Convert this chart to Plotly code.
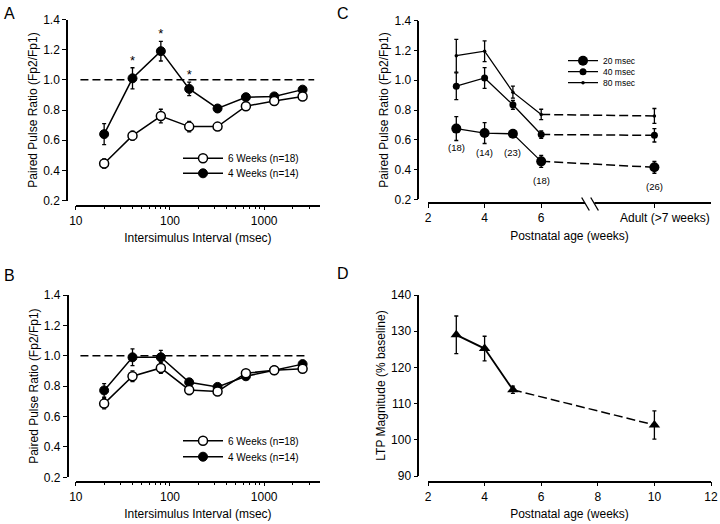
import plotly.graph_objects as go

# ---------------- data ----------------
isi_ms = [20, 40, 80, 160, 320, 640, 1280, 2560]

a_6wk = [0.445, 0.63, 0.76, 0.69, 0.69, 0.825, 0.86, 0.89]
a_6wk_err = [0.03, 0.03, 0.045, 0.035, 0.02, 0.02, 0.015, 0.015]
a_4wk = [0.64, 1.01, 1.19, 0.94, 0.81, 0.885, 0.89, 0.935]
a_4wk_err = [0.07, 0.07, 0.065, 0.045, 0.02, 0.02, 0.015, 0.01]
a_sig_isi = [40, 80, 160]

b_6wk = [0.685, 0.865, 0.92, 0.775, 0.765, 0.885, 0.905, 0.915]
b_6wk_err = [0.035, 0.035, 0.035, 0.03, 0.02, 0.02, 0.01, 0.01]
b_4wk = [0.772, 0.99, 0.99, 0.825, 0.795, 0.865, 0.905, 0.945]
b_4wk_err = [0.045, 0.055, 0.045, 0.02, 0.015, 0.015, 0.01, 0.01]

unity_a = [11.2, 3400]
unity_b = [11.2, 2700]

c_age = [3, 4, 5, 6, 10]          # 10 = adult (>7 weeks)
c_20 = [0.675, 0.645, 0.64, 0.455, 0.415]
c_20_err = [0.08, 0.07, 0.02, 0.04, 0.04]
c_40 = [0.96, 1.015, 0.835, 0.635, 0.63]
c_40_err = [0.09, 0.07, 0.03, 0.025, 0.045]
c_80 = [1.165, 1.195, 0.92, 0.77, 0.76]
c_80_err = [0.11, 0.07, 0.04, 0.035, 0.05]
c_n = ["(18)", "(14)", "(23)", "(18)", "(26)"]

d_age = [3, 4, 5, 10]
d_ltp = [129, 125.2, 113.8, 104.1]
d_err = [5.2, 3.4, 1.0, 3.9]

FONT = "Liberation Sans, Arial, Helvetica, sans-serif"
W, H = 720, 524


def px(v):
    return v / W


def py(v):
    return (H - v) / H


fig = go.Figure()


def err(vals, w=2):
    return dict(type="data", array=vals, visible=True, color="black", thickness=1.3, width=w)


# ---------- Panel A / B ----------
for xa, ya, six, six_e, four, four_e, unity, lg in [
    ("x", "y", a_6wk, a_6wk_err, a_4wk, a_4wk_err, unity_a, ("legend", "legend2")),
    ("x2", "y2", b_6wk, b_6wk_err, b_4wk, b_4wk_err, unity_b, ("legend3", "legend4")),
]:
    fig.add_trace(go.Scatter(x=unity, y=[1, 1], mode="lines", xaxis=xa, yaxis=ya,
                             line=dict(color="black", width=1.5, dash="8px,4px"),
                             showlegend=False, hoverinfo="skip"))
    fig.add_trace(go.Scatter(x=isi_ms, y=four, mode="lines+markers", xaxis=xa, yaxis=ya,
                             name="4 Weeks (n=14)", legend=lg[1],
                             line=dict(color="black", width=1.5),
                             marker=dict(symbol="circle", size=9, color="black",
                                         line=dict(color="black", width=1)),
                             error_y=err(four_e)))
    fig.add_trace(go.Scatter(x=isi_ms, y=six, mode="lines+markers", xaxis=xa, yaxis=ya,
                             name="6 Weeks (n=18)", legend=lg[0],
                             line=dict(color="black", width=1.5),
                             marker=dict(symbol="circle", size=9, color="white",
                                         line=dict(color="black", width=1.5)),
                             error_y=err(six_e)))

# significance stars
star_y = [a_4wk[isi_ms.index(v)] + a_4wk_err[isi_ms.index(v)] for v in a_sig_isi]
fig.add_trace(go.Scatter(x=a_sig_isi, y=star_y, mode="text", text=["*"] * len(a_sig_isi),
                         textposition="top center", xaxis="x", yaxis="y",
                         textfont=dict(family=FONT, size=13, color="black"),
                         showlegend=False, hoverinfo="skip"))

# ---------- Panel C ----------
c_specs = [
    (c_20, c_20_err, "20 msec", 10, "legend5"),
    (c_40, c_40_err, "40 msec", 7, "legend6"),
    (c_80, c_80_err, "80 msec", 3.5, "legend7"),
]
for vals, errs, name, msize, lg in c_specs:
    fig.add_trace(go.Scatter(x=c_age[:4], y=vals[:4], mode="lines+markers", xaxis="x3", yaxis="y3",
                             name=name, legend=lg,
                             line=dict(color="black", width=1.3),
                             marker=dict(symbol="circle", size=msize, color="black"),
                             error_y=err(errs[:4])))
    fig.add_trace(go.Scatter(x=c_age[3:], y=vals[3:], mode="lines", xaxis="x3", yaxis="y3",
                             line=dict(color="black", width=1.5, dash="9px,4px"),
                             showlegend=False, hoverinfo="skip"))
    fig.add_trace(go.Scatter(x=c_age[4:], y=vals[4:], mode="markers", xaxis="x3", yaxis="y3",
                             marker=dict(symbol="circle", size=msize, color="black"),
                             error_y=err(errs[4:]), showlegend=False, hoverinfo="skip"))

annotations = []
for xv, yv, t in zip(c_age, c_20, c_n):
    annotations.append(dict(x=xv, y=yv, xref="x3", yref="y3", text=t, showarrow=False,
                            yshift=-19, font=dict(family=FONT, size=9.5, color="black")))

# ---------- Panel D ----------
fig.add_trace(go.Scatter(x=d_age[:3], y=d_ltp[:3], mode="lines+markers", xaxis="x4", yaxis="y4",
                         line=dict(color="black", width=1.8),
                         marker=dict(symbol="triangle-up", size=10, color="black"),
                         error_y=err(d_err[:3]), showlegend=False))
fig.add_trace(go.Scatter(x=d_age[2:], y=d_ltp[2:], mode="lines", xaxis="x4", yaxis="y4",
                         line=dict(color="black", width=1.5, dash="9px,4px"),
                         showlegend=False, hoverinfo="skip"))
fig.add_trace(go.Scatter(x=d_age[3:], y=d_ltp[3:], mode="markers", xaxis="x4", yaxis="y4",
                         marker=dict(symbol="triangle-up", size=10, color="black"),
                         error_y=err(d_err[3:]), showlegend=False))

# ---------- axes ----------
tickfont = dict(family=FONT, size=12, color="black")
titlefont = dict(family=FONT, size=12, color="black")

common_x = dict(anchor="free", showline=True, linecolor="black", linewidth=1.5,
                ticks="outside", ticklen=4, tickwidth=1.2, tickcolor="black", automargin=False,
                showgrid=False, zeroline=False, tickfont=tickfont, ticklabeloverflow="allow")
common_y = dict(anchor="free", showline=True, linecolor="black", linewidth=1.5,
                ticks="outside", ticklen=4, tickwidth=1.2, tickcolor="black", automargin=False,
                showgrid=False, zeroline=False, tickfont=tickfont)

log_minor = dict(tickmode="array",
                 tickvals=[20, 30, 40, 50, 60, 70, 80, 90, 200, 300, 400, 500, 600, 700, 800, 900,
                           2000, 3000],
                 ticks="outside", ticklen=2.5, tickwidth=1, tickcolor="black", showgrid=False)

xdom_ab = [px(75.8), px(320)]
xdom_cd = [px(428), px(711)]
ydom_top = [py(200.5), py(19.5)]
ydom_bot = [py(477.3), py(295)]
ydom_c = [py(199.3), py(20.7)]
ydom_d = [py(476), py(295)]

fig.update_layout(
    template="none",
    xaxis=dict(common_x, type="log", range=[1, 3.593], domain=xdom_ab, position=py(205.5),
               tickmode="array", tickvals=[10, 100, 1000], minor=log_minor,
               title=dict(text="Intersimulus Interval (msec)", font=titlefont, standoff=6)),
    yaxis=dict(common_y, range=[0.2, 1.4], domain=ydom_top, position=px(67),
               tickmode="array", tickvals=[0.2, 0.4, 0.6, 0.8, 1.0, 1.2, 1.4], tickformat=".1f",
               title=dict(text="Paired Pulse Ratio (Fp2/Fp1)", font=titlefont, standoff=2)),
    xaxis2=dict(common_x, type="log", range=[1, 3.593], domain=xdom_ab, position=py(481.7),
                tickmode="array", tickvals=[10, 100, 1000], minor=log_minor,
                title=dict(text="Intersimulus Interval (msec)", font=titlefont, standoff=6)),
    yaxis2=dict(common_y, range=[0.2, 1.4], domain=ydom_bot, position=px(67.7),
                tickmode="array", tickvals=[0.2, 0.4, 0.6, 0.8, 1.0, 1.2, 1.4], tickformat=".1f",
                title=dict(text="Paired Pulse Ratio (Fp2/Fp1)", font=titlefont, standoff=2)),
    xaxis3=dict(common_x, range=[2, 12], domain=xdom_cd, position=py(203.3),
                tickmode="array", tickvals=[2, 4, 6, 10], ticktext=["2", "4", "6", ""],
                title=dict(text="Postnatal age (weeks)", font=titlefont, standoff=6)),
    yaxis3=dict(common_y, range=[0.2, 1.4], domain=ydom_c, position=px(418.3),
                tickmode="array", tickvals=[0.2, 0.4, 0.6, 0.8, 1.0, 1.2, 1.4], tickformat=".1f",
                title=dict(text="Paired Pulse Ratio (Fp2/Fp1)", font=titlefont, standoff=2)),
    xaxis4=dict(common_x, range=[2, 12], domain=xdom_cd, position=py(481.5),
                tickmode="array", tickvals=[2, 4, 6, 8, 10, 12],
                title=dict(text="Postnatal age (weeks)", font=titlefont, standoff=6)),
    yaxis4=dict(common_y, range=[90, 140], domain=ydom_d, position=px(418.3),
                tickmode="array", tickvals=[90, 100, 110, 120, 130, 140],
                title=dict(text="LTP Magnitude (% baseline)", font=titlefont, standoff=2)),
)

# Adult tick label
annotations.append(dict(x=10, xref="x3", y=py(203.3), yref="paper", yanchor="top", yshift=-6,
                        xshift=11, text="Adult (>7 weeks)", showarrow=False, font=tickfont))

# panel letters
for letter, lx, ly in [("A", 9.5, 14), ("B", 9.5, 275), ("C", 343, 13), ("D", 343, 274)]:
    annotations.append(dict(x=px(lx), y=py(ly), xref="paper", yref="paper", text=letter,
                            showarrow=False, xanchor="center", yanchor="middle",
                            font=dict(family=FONT, size=16, color="black")))

# axis break in panel C
shapes = [
    dict(type="rect", xref="x3", yref="paper", x0=7.55, x1=7.88, y0=py(207), y1=py(200),
         fillcolor="white", line=dict(width=0), layer="above"),
    dict(type="line", xref="x3", yref="paper", x0=7.43, x1=7.70, y0=py(197.5), y1=py(210.5),
         line=dict(color="black", width=1.3), layer="above"),
    dict(type="line", xref="x3", yref="paper", x0=7.75, x1=8.02, y0=py(197.5), y1=py(210.5),
         line=dict(color="black", width=1.3), layer="above"),
]


def legend_at(xp, yp, size, iw=30):
    return dict(x=px(xp), y=py(yp), xanchor="left", yanchor="middle", bgcolor="rgba(0,0,0,0)",
                borderwidth=0, font=dict(family=FONT, size=size, color="black"),
                itemwidth=iw, itemclick=False, itemdoubleclick=False)


fig.update_layout(
    legend=legend_at(178, 158.3, 10, 40),
    legend2=legend_at(178, 173.3, 10, 40),
    legend3=legend_at(178, 440.7, 10, 40),
    legend4=legend_at(178, 456.7, 10, 40),
    legend5=legend_at(563, 60.7, 8.5),
    legend6=legend_at(563, 71.7, 8.5),
    legend7=legend_at(563, 82.7, 8.5),
    annotations=annotations,
    shapes=shapes,
    width=W, height=H,
    margin=dict(l=0, r=0, t=0, b=0, pad=0),
    paper_bgcolor="white", plot_bgcolor="white",
    font=dict(family=FONT, size=12, color="black"),
    showlegend=True,
)

fig.write_html("out.html", config={"displayModeBar": False},
               post_script="document.body.style.margin='0';document.body.style.padding='0';")
